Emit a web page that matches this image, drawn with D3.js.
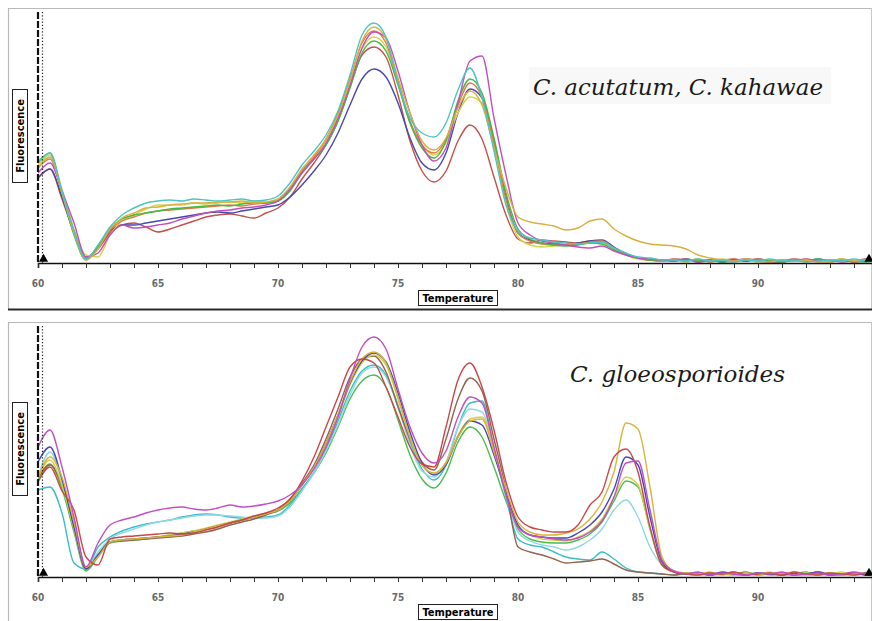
<!DOCTYPE html>
<html><head><meta charset="utf-8">
<script src="https://cdn.jsdelivr.net/npm/d3@7"></script>
<style>body{margin:0;background:#fff}svg{display:block}</style>
</head><body>
<svg id="chart" width="872" height="621"></svg>
<script>
// Melt-curve samples, every 0.5 °C from 60 to 95 °C (-dF/dT, arbitrary units)
const temperatures = d3.range(60, 95.001, 0.5);
const majorTicks = [60, 65, 70, 75, 80, 85, 90, 95];
const minorTicks = d3.range(60, 96, 1);

// Upper panel: C. acutatum, C. kahawae
const acuCyan = [100,110,72,32,4,18,36,48,55,60, 62,63,62,64,63,62,63,64,62,63, 67,80,98,112,128,152,188,228,240,226, 180,145,130,126,140,173,195,165,112,58, 32,25,23,21,20,19,20,21,15,10, 6,5,3,3,2,4,2,3,1,3, 2,4,2,3,1,2,3,2,4,2, 3];
const acuGold = [95,106,70,30,3,14,34,45,50,55, 56,58,59,60,60,61,61,62,60,61, 64,76,94,108,124,148,182,222,236,224, 185,150,122,113,125,155,172,158,115,75, 46,41,39,37,33,35,42,44,34,27, 22,19,18,17,14,8,5,3,2,4, 2,1,3,2,3,1,2,4,2,3, 2];
const acuMagenta = [90,100,72,40,6,10,28,38,35,36, 38,40,44,47,50,52,53,55,56,58, 62,74,90,104,120,145,178,215,231,225, 192,150,118,102,115,160,202,207,145,88, 40,28,22,20,18,16,15,17,12,8, 5,4,3,2,4,1,3,2,3,4, 2,1,3,2,4,2,3,1,2,3, 2];
const acuYellow = [98,108,74,34,8,6,28,42,48,54, 58,58,58,60,59,60,61,60,62,61, 63,74,92,106,122,146,180,214,226,216, 180,140,118,108,120,150,166,160,118,60, 26,18,16,17,18,19,20,20,14,8, 4,3,2,3,1,3,2,4,2,3, 1,2,3,2,4,2,1,3,2,3, 2];
const acuGreen = [101,110,70,28,3,16,34,44,48,50, 52,54,55,56,57,58,57,59,60,60, 62,72,90,104,118,142,175,210,222,212, 178,140,115,105,122,162,184,170,125,70, 34,24,20,18,17,18,20,19,13,8, 5,3,3,2,4,2,3,1,2,4, 3,2,1,3,2,4,2,3,2,1, 3];
const acuRed = [85,94,64,30,6,14,30,38,40,36, 31,34,38,42,46,48,49,47,45,50, 55,66,84,100,118,142,176,208,216,206, 168,122,92,81,92,122,138,124,86,48, 24,20,23,22,21,20,22,21,14,9, 5,3,2,4,3,1,2,3,4,2, 3,1,2,4,3,2,1,3,2,4, 2];
const acuNavy = [85,94,66,30,4,16,32,38,38,40, 42,44,46,48,50,51,50,52,54,56, 58,66,78,92,108,130,158,184,194,186, 160,125,100,93,110,150,174,165,122,66, 30,23,20,19,18,20,22,23,16,9, 5,3,3,2,4,2,3,1,3,2, 4,2,1,3,2,4,2,3,1,2, 3];
const acuOrange = [95,104,70,32,5,16,33,42,46,50, 52,53,54,55,56,57,58,57,59,60, 62,74,92,106,124,150,184,220,232,220, 182,142,118,110,124,158,180,166,120,64, 30,22,19,18,18,19,21,22,15,9, 5,3,2,3,2,4,1,3,2,3, 4,2,1,3,2,3,2,4,1,3, 2];

// Lower panel: C. gloeosporioides
const gloMagenta = [130,147,110,60,10,34,52,57,60,64, 67,69,70,68,67,69,72,70,71,73, 76,82,92,108,130,160,198,230,240,228, 188,150,124,114,126,160,180,174,130,82, 50,42,40,38,37,39,45,56,80,114, 116,67,17,6,3,5,2,4,3,2, 4,3,5,2,3,4,2,3,5,3, 4];
const gloRed = [95,110,86,67,20,12,38,40,41,42, 43,44,43,44,47,50,54,57,61,64, 69,78,96,120,150,180,210,218,214,190, 160,130,113,110,150,197,214,190,147,95, 60,50,47,45,45,52,72,85,120,128, 105,50,12,5,3,2,4,3,5,2, 3,4,2,5,3,2,4,3,2,4, 3];
const gloBrown = [100,112,92,55,8,22,35,36,37,38, 39,40,41,43,45,48,52,55,58,62, 67,78,94,112,138,168,200,218,221,205, 170,138,115,107,138,178,199,186,138,88, 30,25,22,18,14,15,16,18,13,7, 5,4,3,2,4,3,2,4,3,5, 2,3,4,2,3,5,3,2,4,3, 2];
const gloCyan = [87,90,64,14,8,30,40,46,50,53, 55,57,60,62,63,62,60,59,59,60, 62,72,88,105,128,156,186,206,212,202, 172,135,108,97,112,150,174,176,128,80, 38,32,30,25,20,18,17,25,18,9, 5,4,3,2,3,2,4,3,2,3, 4,2,3,2,4,3,2,3,4,2, 3];
const gloPaleCyan = [100,125,95,50,8,25,38,44,48,52, 55,57,59,61,62,62,61,60,59,59, 61,70,86,104,126,152,182,204,210,200, 170,132,106,100,115,150,168,165,128,82, 45,36,32,30,27,30,37,48,67,77, 60,30,12,5,3,4,2,3,4,2, 3,4,2,3,2,4,3,2,3,4, 2];
const gloGold = [99,120,100,55,10,20,35,37,38,39, 40,41,42,45,48,51,54,57,60,63, 67,76,92,110,134,162,195,218,225,214, 180,140,112,104,114,140,156,158,125,88, 55,45,42,42,44,48,58,75,105,154, 148,90,20,6,4,3,5,2,4,3, 2,4,3,5,2,3,4,2,3,4, 3];
const gloNavy = [115,130,98,50,8,22,35,37,38,39, 40,41,43,45,48,51,54,57,60,63, 67,76,92,110,134,162,194,216,224,215, 184,145,114,102,112,140,156,152,122,85, 52,42,40,39,39,44,52,65,88,120, 112,60,15,5,3,4,2,5,3,2, 4,3,2,4,3,5,2,3,4,2, 3];
const gloYellow = [100,117,92,48,8,22,35,37,38,39, 40,42,44,46,49,52,55,58,61,64, 67,76,92,110,132,160,192,214,222,212, 178,140,112,103,115,142,158,160,128,86, 52,42,38,37,36,40,46,58,80,100, 92,48,12,5,3,2,4,3,2,4, 3,5,2,3,4,2,3,5,2,3, 4];
const gloGreen = [97,113,88,45,6,20,34,36,37,38, 40,42,44,46,48,51,54,57,60,63, 66,74,88,104,124,150,178,196,202,190, 157,122,98,89,104,135,150,140,110,76, 48,38,35,34,34,37,43,55,76,96, 90,48,12,5,3,4,2,3,5,2, 4,3,2,3,5,2,4,3,2,3, 4];

const acuColors = ["#4cc4c6", "#d8b03c", "#c24fc2", "#d4d44c", "#46b846", "#c4504c", "#4a48aa", "#e07a48"];
const gloColors = ["#c24fc2", "#c8474a", "#94634a", "#3cbcc4", "#90d8e4", "#dab43a", "#4646b4", "#d2d24a", "#4cbc4c"];

const panels = [
  { title: "C. acutatum, C. kahawae", titleX: 533, titleY: 95, titleW: 290, titleBox: true,
    frameTop: 8, axisY: 263, fluoY: 136,
    series: [acuRed, acuNavy, acuYellow, acuOrange, acuGreen, acuMagenta, acuGold, acuCyan],
    colors: [acuColors[5], acuColors[6], acuColors[3], acuColors[7], acuColors[4], acuColors[2], acuColors[1], acuColors[0]] },
  { title: "C. gloeosporioides", titleX: 570, titleY: 382, titleW: 215, titleBox: false,
    frameTop: 322, axisY: 577, fluoY: 449,
    series: [gloGreen, gloCyan, gloPaleCyan, gloBrown, gloYellow, gloNavy, gloGold, gloRed, gloMagenta],
    colors: [gloColors[8], gloColors[3], gloColors[4], gloColors[2], gloColors[7], gloColors[6], gloColors[5], gloColors[1], gloColors[0]] }
];

const svg = d3.select("#chart");
const W = 872;
const x = d3.scaleLinear().domain([60, 95]).range([38, 878]);
const labelFont = "'DejaVu Sans Condensed','Liberation Sans Narrow','DejaVu Sans',sans-serif";

panels.forEach((p, pi) => {
  const g = svg.append("g");
  const y = d3.scaleLinear().domain([0, 250]).range([p.axisY, p.axisY - 250]);

  // panel frame
  g.append("line").attr("x1", 8).attr("x2", W).attr("y1", p.frameTop + 0.5).attr("y2", p.frameTop + 0.5)
    .attr("stroke", "#b8b8b8").attr("stroke-width", 1.2);
  g.append("line").attr("x1", 8.5).attr("x2", 8.5).attr("y1", p.frameTop).attr("y2", pi === 0 ? 310 : 621)
    .attr("stroke", "#b8b8b8").attr("stroke-width", 1.2);
  g.append("line").attr("x1", 871.5).attr("x2", 871.5).attr("y1", p.frameTop).attr("y2", pi === 0 ? 310 : 621)
    .attr("stroke", "#c8c8c8").attr("stroke-width", 1);
  if (pi === 0) {
    g.append("line").attr("x1", 8).attr("x2", W).attr("y1", 309.5).attr("y2", 309.5)
      .attr("stroke", "#2a2a2a").attr("stroke-width", 2);
  }

  // title
  if (p.titleBox) {
    g.append("rect").attr("x", p.titleX - 4).attr("y", p.titleY - 28).attr("width", p.titleW + 12).attr("height", 37)
      .attr("fill", "#f8f8f8");
  }
  g.append("text").attr("x", p.titleX).attr("y", p.titleY)
    .attr("font-family", "'DejaVu Serif','Liberation Serif',serif").attr("font-style", "italic")
    .attr("font-size", 23).attr("fill", "#1a1a1a")
    .attr("textLength", p.titleW).attr("lengthAdjust", "spacingAndGlyphs")
    .text(p.title);

  // curves
  const clipId = "clip" + pi;
  svg.append("clipPath").attr("id", clipId).append("rect")
    .attr("x", 38).attr("y", p.frameTop + 2).attr("width", 833).attr("height", p.axisY - p.frameTop);
  const line = d3.line().x((d, i) => x(temperatures[i])).y(d => y(d)).curve(d3.curveMonotoneX);
  g.append("g").attr("clip-path", `url(#${clipId})`)
    .selectAll("path").data(p.series).join("path")
    .attr("d", line).attr("fill", "none")
    .attr("stroke", (d, i) => p.colors[i]).attr("stroke-width", 1.4).attr("stroke-linejoin", "round");

  // y axis: dashed heavy line and dotted threshold line
  g.append("line").attr("x1", 38).attr("x2", 38).attr("y1", p.frameTop + 4).attr("y2", p.axisY)
    .attr("stroke", "#111").attr("stroke-width", 2.2).attr("stroke-dasharray", "7,2");
  g.append("line").attr("x1", 42.5).attr("x2", 42.5).attr("y1", p.frameTop + 4).attr("y2", p.axisY)
    .attr("stroke", "#222").attr("stroke-width", 1.2).attr("stroke-dasharray", "1.2,2");

  // x axis
  const axis = d3.axisBottom(x).tickValues(minorTicks).tickSize(5).tickFormat("");
  const ax = g.append("g").attr("transform", `translate(0,${p.axisY})`).call(axis);
  ax.select(".domain").attr("stroke", "#111").attr("stroke-width", 1.6);
  ax.selectAll(".tick line").attr("stroke", "#333").attr("stroke-width", 1);
  g.append("g").selectAll("text").data(majorTicks).join("text")
    .attr("x", d => x(d)).attr("y", p.axisY + 24).attr("text-anchor", "middle")
    .attr("font-family", labelFont).attr("font-size", 10).attr("font-weight", "bold").attr("fill", "#6a6a6a")
    .text(d => d);

  // end markers
  const tri = d3.symbol().type(d3.symbolTriangle).size(36);
  g.append("path").attr("d", tri).attr("transform", `translate(43.5,${p.axisY - 4})`).attr("fill", "#000");
  g.append("path").attr("d", tri).attr("transform", `translate(869,${p.axisY - 4})`).attr("fill", "#000");

  // axis title boxes
  const tb = g.append("g").attr("transform", `translate(458,${p.axisY + 35})`);
  tb.append("rect").attr("x", -39.5).attr("y", -7.5).attr("width", 79).attr("height", 15)
    .attr("fill", "#fff").attr("stroke", "#222").attr("stroke-width", 1);
  tb.append("text").attr("text-anchor", "middle").attr("dy", "0.35em")
    .attr("font-family", labelFont).attr("font-weight", "bold").attr("font-size", 11).attr("fill", "#000")
    .text("Temperature");

  const fb = g.append("g").attr("transform", `translate(20,${p.fluoY}) rotate(-90)`);
  fb.append("rect").attr("x", -46.5).attr("y", -7.5).attr("width", 93).attr("height", 15)
    .attr("fill", "#fff").attr("stroke", "#222").attr("stroke-width", 1);
  fb.append("text").attr("text-anchor", "middle").attr("dy", "0.35em")
    .attr("font-family", labelFont).attr("font-weight", "bold").attr("font-size", 11).attr("fill", "#000")
    .text("Fluorescence");
});
</script>
</body></html>
